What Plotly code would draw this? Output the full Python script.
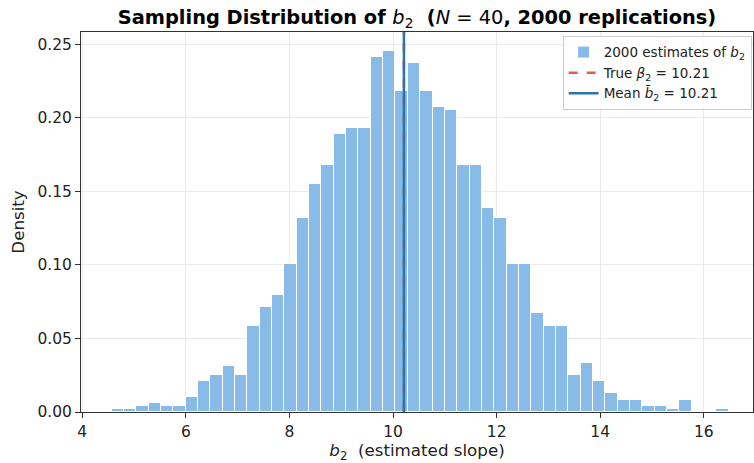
import numpy as np
import plotly.graph_objects as go

# ---- data ----
n_reps = 2000
bin_lo = 4.564
bin_hi = 16.483
counts = [1, 1, 2, 3, 2, 2, 5, 10, 12, 15,
          12, 28, 34, 38, 48, 63, 74, 80, 90, 92,
          92, 115, 117, 104, 113, 104, 99, 98, 80, 80,
          66, 63, 48, 48, 32, 28, 28, 12, 16, 10,
          6, 4, 4, 2, 2, 1, 4, 0, 0, 1]
true_beta2 = 10.21
mean_b2 = 10.21
x_ticks = [4, 6, 8, 10, 12, 14, 16]
y_ticks = [0.00, 0.05, 0.10, 0.15, 0.20, 0.25]

n_bins = len(counts)
edges = np.linspace(bin_lo, bin_hi, n_bins + 1)
width = edges[1] - edges[0]
centers = (edges[:-1] + edges[1:]) / 2
density = np.array(counts) / (n_reps * width)

y_max = density.max() * 1.053
x_range = [3.975, 16.95]

font_family = "DejaVu Sans"

fig = go.Figure()
fig.add_trace(go.Bar(
    x=centers, y=density, width=width,
    marker=dict(color="rgb(137,187,232)", line=dict(color="white", width=1)),
    name=f"{n_reps} estimates of <i>b</i><sub>2</sub>",
))
fig.add_trace(go.Scatter(
    x=[true_beta2, true_beta2], y=[0, y_max], mode="lines",
    line=dict(color="#e0604b", width=2.5, dash="dash"),
    name=f"True <i>β</i><sub>2</sub> = {true_beta2:.2f}",
))
fig.add_trace(go.Scatter(
    x=[mean_b2, mean_b2], y=[0, y_max], mode="lines",
    line=dict(color="#2a74b3", width=2.5),
    name=f"Mean <i>b̄</i><sub>2</sub> = {mean_b2:.2f}",
))

axis_common = dict(
    showline=True, linecolor="#333333", linewidth=1, mirror=True,
    ticks="outside", ticklen=5, tickcolor="#333333", tickwidth=1,
    showgrid=True, gridcolor="#ebebeb", gridwidth=1, zeroline=False,
    tickfont=dict(size=15.5, color="#222222", family=font_family),
    automargin=False,
)

fig.update_layout(
    width=754, height=463,
    margin=dict(l=81, r=1, t=32, b=51),
    paper_bgcolor="white", plot_bgcolor="white",
    font=dict(family=font_family, color="#222222"),
    bargap=0,
    title=dict(
        text=f"<b>Sampling Distribution of </b><i>b</i><sub>2</sub><b>  (</b><i>N</i> = 40<b>, {n_reps} replications)</b>",
        x=0.553, xanchor="center", y=0.963, yanchor="middle",
        font=dict(size=19.4, color="black", family=font_family),
    ),
    xaxis=dict(range=x_range, tickvals=x_ticks, ticktext=[str(t) for t in x_ticks],
               title=dict(text="<i>b</i><sub>2</sub>&nbsp;&nbsp;(estimated slope)", font=dict(size=16.7), standoff=2),
               **axis_common),
    yaxis=dict(range=[0, y_max], tickvals=y_ticks, ticktext=[f"{t:.2f}" for t in y_ticks],
               title=dict(text="Density", font=dict(size=16.7), standoff=8),
               **axis_common),
    legend=dict(
        x=0.998, xanchor="right", y=0.99, yanchor="top",
        bgcolor="rgba(255,255,255,0.85)", bordercolor="#cccccc", borderwidth=1,
        font=dict(size=13.5, color="#222222", family=font_family),
        tracegroupgap=2, itemwidth=30,
    ),
    showlegend=True,
)

fig.write_html("out.html", config={"displayModeBar": False},
               post_script="document.body.style.margin='0';")
